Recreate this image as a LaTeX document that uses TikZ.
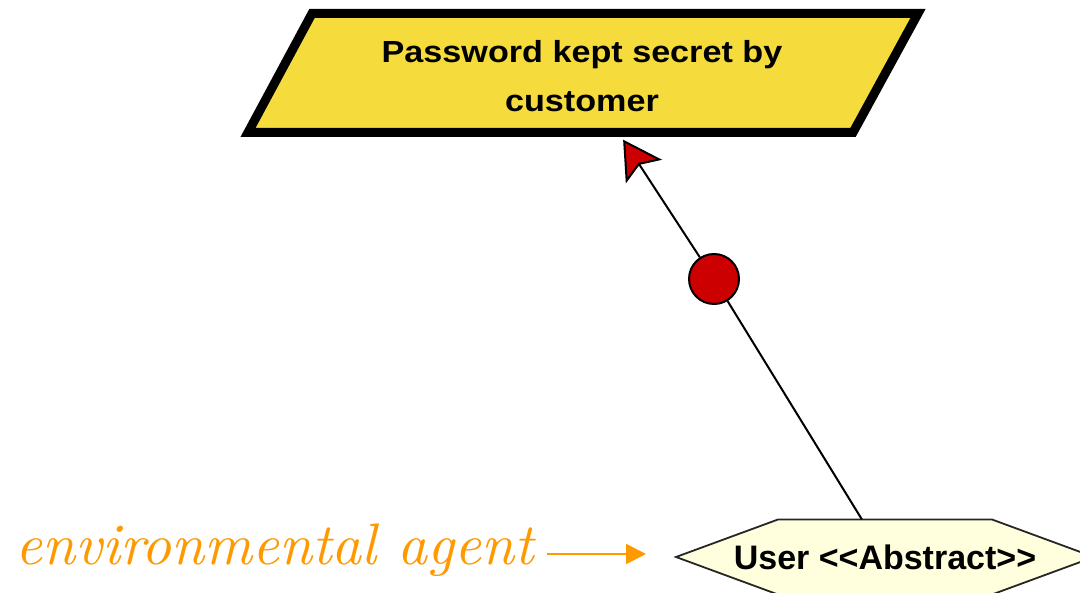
\documentclass[tikz,border=0pt]{standalone}
\usepackage{fontspec}
\usepackage{tikz}
\usetikzlibrary{arrows.meta}
\newfontfamily\goalfont[FakeStretch=1.12]{Liberation Sans Bold}
\newfontfamily\agentfont{Liberation Sans Bold}
\newfontfamily\envfont{lmroman10-italic.otf}
\definecolor{goalyellow}{RGB}{245,220,60}
\definecolor{agentcream}{RGB}{255,255,221}
\definecolor{refred}{RGB}{204,0,0}
\definecolor{envorange}{RGB}{255,153,0}

\begin{document}
\begin{tikzpicture}[x=1pt, y=-1pt,
  reflink/.style={line width=2pt, black},
  goalshape/.style={fill=goalyellow, draw=black, line width=9pt, line join=miter},
  agentshape/.style={fill=agentcream, draw=black!85, line width=1.8pt}]
\useasboundingbox (0,0) rectangle (1080,593);

\filldraw[goalshape] (312,13.5) -- (918,13.5) -- (853,132.5) -- (248,132.5) -- cycle;
\node[inner sep=0pt, minimum height=126pt, align=center, font=\goalfont\fontsize{30.5}{49}\selectfont] (goal) at (582,76.5) {Password kept secret by\\customer};

\filldraw[agentshape] (676,557) -- (778,519.5) -- (992,519.5) -- (1094,557) -- (992,594.5) -- (778,594.5) -- cycle;
\node[minimum width=418pt, minimum height=75pt, inner sep=0pt, font=\agentfont\fontsize{34}{40}\selectfont] (agent) at (885,557) {User <\kern0pt<Abstract>\kern0pt>};

\node[circle, draw, fill=refred, line width=2pt, minimum size=50pt, inner sep=0pt] (refine) at (714,279) {};
\draw[reflink] (agent) -- (refine);
\draw[reflink, -{Stealth[length=38pt, width=43pt, inset=8pt, fill=refred]}] (refine) -- (goal);

\node[anchor=base west, inner sep=0pt, text=envorange, font=\envfont\fontsize{58.6}{60}\selectfont] (envlabel) at (15,565) {environmental agent};
\coordinate (envtip) at (646,554);
\draw[envorange, line width=2pt, -{Triangle[length=20pt, width=20pt]}] ([xshift=13pt, yshift=11pt]envlabel.base east) -- (envtip);
\end{tikzpicture}
\end{document}
